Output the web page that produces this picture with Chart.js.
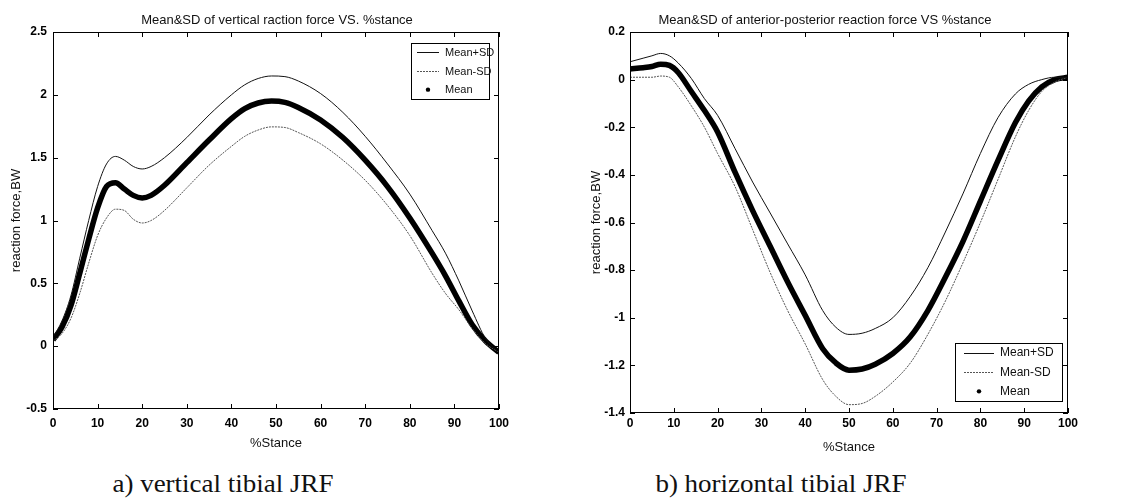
<!DOCTYPE html>
<html>
<head>
<meta charset="utf-8">
<script src="https://cdn.jsdelivr.net/npm/chart.js@4.4.1/dist/chart.umd.min.js"></script>
<style>
  html, body { margin: 0; padding: 0; background: #fff; width: 1131px; height: 498px; overflow: hidden; }
  body { position: relative; }
  .panel { position: absolute; top: 0; }
  .cap { position: absolute; top: 470px; font-family: "Liberation Serif", "Times New Roman", serif; font-size: 25px;
         color: #111; white-space: nowrap; transform: translateX(-50%) scaleX(1.08); }
</style>
</head>
<body>
<div class="panel" style="left:0;width:552px;height:460px"><canvas id="vertChart"></canvas></div>
<div class="panel" style="left:560px;width:571px;height:464px"><canvas id="horizChart"></canvas></div>
<div class="cap" style="left:223px">a) vertical tibial JRF</div>
<div class="cap" style="left:781px">b) horizontal tibial JRF</div>
<script>
// vertical tibial JRF (x = %stance)
const vertX     = [0, 2, 4, 6, 8, 10, 12, 14, 16, 18, 20, 22, 25, 30, 35, 40, 43, 46, 49, 52, 55, 60, 65, 70, 75, 80, 85, 88, 91, 94, 97, 100];
const vertMean  = [0.05, 0.15, 0.32, 0.58, 0.85, 1.10, 1.27, 1.30, 1.25, 1.20, 1.18, 1.20, 1.28, 1.46, 1.64, 1.81, 1.89, 1.935, 1.95, 1.94, 1.90, 1.80, 1.66, 1.48, 1.27, 1.02, 0.74, 0.56, 0.36, 0.17, 0.04, -0.05];
const vertUpper = [0.07, 0.20, 0.40, 0.70, 1.00, 1.27, 1.45, 1.51, 1.48, 1.43, 1.41, 1.43, 1.50, 1.66, 1.84, 2.00, 2.08, 2.13, 2.15, 2.145, 2.11, 2.01, 1.86, 1.67, 1.45, 1.21, 0.92, 0.74, 0.52, 0.28, 0.06, -0.05];
const vertLower = [0.04, 0.10, 0.22, 0.42, 0.66, 0.88, 1.02, 1.09, 1.08, 1.01, 0.98, 1.00, 1.08, 1.26, 1.44, 1.59, 1.67, 1.72, 1.745, 1.74, 1.70, 1.61, 1.48, 1.32, 1.12, 0.88, 0.58, 0.42, 0.29, 0.14, 0.02, -0.05];

// anterior-posterior (horizontal) tibial JRF
const horizX     = [0, 3, 5, 7, 9, 11, 14, 17, 20, 24, 28, 32, 36, 40, 44, 47, 50, 53, 56, 60, 64, 68, 72, 76, 80, 84, 88, 91, 94, 97, 100];
const horizMean  = [0.045, 0.05, 0.055, 0.065, 0.06, 0.03, -0.05, -0.13, -0.22, -0.39, -0.55, -0.70, -0.85, -0.99, -1.13, -1.19, -1.22, -1.215, -1.195, -1.15, -1.08, -0.97, -0.83, -0.68, -0.51, -0.34, -0.18, -0.09, -0.03, 0.0, 0.01];
const horizUpper = [0.075, 0.09, 0.10, 0.11, 0.10, 0.07, 0.005, -0.08, -0.15, -0.29, -0.43, -0.56, -0.69, -0.82, -0.97, -1.04, -1.07, -1.065, -1.045, -1.00, -0.91, -0.79, -0.64, -0.48, -0.31, -0.16, -0.06, -0.02, 0.0, 0.01, 0.01];
const horizLower = [0.01, 0.01, 0.01, 0.015, 0.01, -0.03, -0.11, -0.20, -0.31, -0.45, -0.63, -0.81, -0.97, -1.11, -1.26, -1.33, -1.365, -1.36, -1.33, -1.27, -1.19, -1.07, -0.93, -0.77, -0.60, -0.42, -0.24, -0.13, -0.05, -0.01, 0.01];

const xTicks = [0, 10, 20, 30, 40, 50, 60, 70, 80, 90, 100];
const seriesNames = ["Mean+SD", "Mean-SD", "Mean"];
const titles = ["Mean&SD of vertical raction force VS. %stance", "Mean&SD of anterior-posterior reaction force VS %stance"];

const SANS = '"Liberation Sans", Arial, sans-serif';

function pts(xs, ys) {
  return xs.map((x, i) => ({ x: x, y: ys[i] }));
}

// box round the axes, with ticks pointing inward on all four sides
const boxTicks = {
  id: "boxTicks",
  afterDatasetsDraw(chart) {
    const { ctx, chartArea: a, scales: { x, y } } = chart;
    ctx.save();
    ctx.strokeStyle = "#000";
    ctx.lineWidth = 1;
    ctx.strokeRect(a.left + 0.5, a.top + 0.5, a.width - 1, a.height - 1);
    ctx.beginPath();
    x.ticks.forEach(t => {
      const px = Math.round(x.getPixelForValue(t.value)) + 0.5;
      ctx.moveTo(px, a.bottom); ctx.lineTo(px, a.bottom - 5);
      ctx.moveTo(px, a.top); ctx.lineTo(px, a.top + 5);
    });
    y.ticks.forEach(t => {
      const py = Math.round(y.getPixelForValue(t.value)) + 0.5;
      ctx.moveTo(a.left, py); ctx.lineTo(a.left + 5, py);
      ctx.moveTo(a.right, py); ctx.lineTo(a.right - 5, py);
    });
    ctx.stroke();
    ctx.restore();
  }
};

// title above the axes, legend box inside them
const panelDecor = {
  id: "panelDecor",
  afterDraw(chart, args, opts) {
    const { ctx, chartArea: a } = chart;
    ctx.save();
    ctx.fillStyle = "#111";
    ctx.font = "13px " + SANS;
    ctx.textAlign = "center";
    ctx.textBaseline = "middle";
    ctx.fillText(opts.title, (a.left + a.right) / 2 + opts.titleDx, opts.titleY);

    const lg = opts.legend;
    const bx = a.right - lg.right - lg.w;
    const by = lg.bottom != null ? a.bottom - lg.bottom - lg.h : a.top + lg.top;
    ctx.fillStyle = "#fff";
    ctx.fillRect(bx, by, lg.w, lg.h);
    ctx.strokeStyle = "#000";
    ctx.lineWidth = 1;
    ctx.strokeRect(Math.round(bx) + 0.5, Math.round(by) + 0.5, lg.w, lg.h);
    ctx.font = lg.font + "px " + SANS;
    ctx.textAlign = "left";
    const rowH = lg.h / 3;
    chart.data.datasets.forEach((ds, i) => {
      const cy = by + rowH * (i + 0.5);
      const x0 = bx + lg.pad, x1 = x0 + lg.line;
      if (i < 2) {
        ctx.strokeStyle = ds.borderColor;
        ctx.lineWidth = 1;
        ctx.setLineDash(ds.borderDash || []);
        ctx.beginPath(); ctx.moveTo(x0, Math.round(cy) + 0.5); ctx.lineTo(x1, Math.round(cy) + 0.5); ctx.stroke();
        ctx.setLineDash([]);
      } else {
        ctx.fillStyle = "#000";
        ctx.beginPath(); ctx.arc((x0 + x1) / 2, cy, 2.2, 0, Math.PI * 2); ctx.fill();
      }
      ctx.fillStyle = "#111";
      ctx.fillText(ds.label, x1 + 6, cy + 0.5);
    });
    ctx.restore();
  }
};

function makeChart(id, xs, upper, lower, mean, cfg) {
  const ctx = document.getElementById(id).getContext("2d");
  return new Chart(ctx, {
    type: "line",
    data: {
      datasets: [
        { label: seriesNames[0], data: pts(xs, upper), borderColor: "#111", borderWidth: 1 },
        { label: seriesNames[1], data: pts(xs, lower), borderColor: "#555", borderWidth: 1, borderDash: [2, 1] },
        { label: seriesNames[2], data: pts(xs, mean), borderColor: "#000", borderWidth: 5.5 }
      ]
    },
    options: {
      responsive: true,
      maintainAspectRatio: false,
      animation: false,
      layout: { padding: cfg.padding },
      elements: {
        point: { radius: 0 },
        line: { cubicInterpolationMode: "monotone", fill: false }
      },
      plugins: {
        legend: { display: false },
        tooltip: { enabled: false },
        panelDecor: cfg.decor
      },
      scales: {
        x: {
          type: "linear",
          min: 0, max: 100,
          afterBuildTicks: s => { s.ticks = xTicks.map(v => ({ value: v })); },
          afterFit: s => { s.height = 45; },
          grid: { display: false, drawTicks: false },
          border: { display: false },
          ticks: { color: "#000", padding: cfg.xPad, maxRotation: 0, font: { family: SANS, size: 12, weight: "bold" } },
          title: { display: true, text: "%Stance", color: "#111", padding: { top: 0, bottom: 3 }, font: { family: SANS, size: 13 } }
        },
        y: {
          min: cfg.yMin, max: cfg.yMax,
          ticks: {
            stepSize: cfg.yStep, color: "#000", padding: cfg.yPad,
            font: { family: SANS, size: 12, weight: "bold" },
            callback: v => String(+v.toFixed(2))
          },
          afterFit: s => { s.width = cfg.yWidth; },
          grid: { display: false, drawTicks: false },
          border: { display: false },
          title: { display: true, text: "reaction force,BW", color: "#111", padding: { top: cfg.yTitlePad, bottom: 0 }, font: { family: SANS, size: 13 } }
        }
      }
    },
    plugins: [boxTicks, panelDecor]
  });
}

makeChart("vertChart", vertX, vertUpper, vertLower, vertMean, {
  padding: { top: 32, right: 53, bottom: 6, left: 0 },
  yMin: -0.5, yMax: 2.5, yStep: 0.5, yWidth: 53, yPad: 6, yTitlePad: 9, xPad: 7,
  decor: {
    title: titles[0], titleDx: 1, titleY: 20,
    legend: { right: 10, top: 11, w: 78, h: 56, font: 11, pad: 6, line: 22 }
  }
});

makeChart("horizChart", horizX, horizUpper, horizLower, horizMean, {
  padding: { top: 32, right: 63, bottom: 6, left: 0 },
  yMin: -1.4, yMax: 0.2, yStep: 0.2, yWidth: 70, yPad: 5, yTitlePad: 29, xPad: 3,
  decor: {
    title: titles[1], titleDx: -24, titleY: 20,
    legend: { right: 6, bottom: 12, w: 107, h: 58, font: 12, pad: 9, line: 30 }
  }
});
</script>
</body>
</html>
